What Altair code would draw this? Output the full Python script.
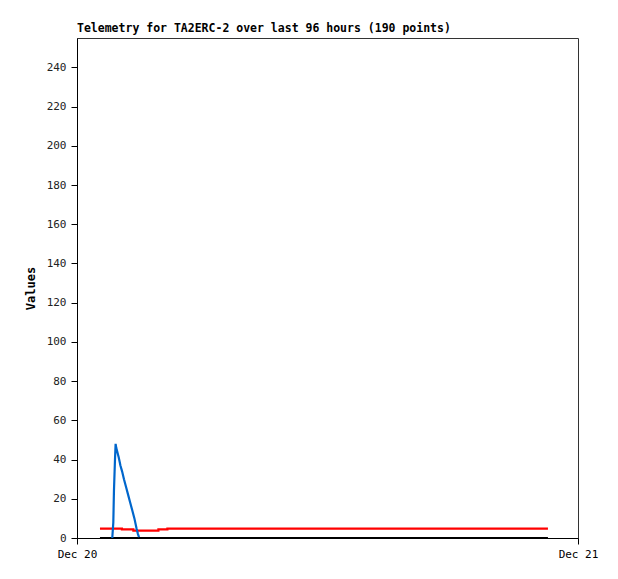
import altair as alt
import pandas as pd

# hours since Dec 20 00:00
black_x = [1.1, 22.56]
black_y = [0.0, 0.0]

red_x = [1.1, 2.15, 2.7, 3.9, 4.33, 22.56]
red_y = [4.75, 4.4, 3.8, 4.4, 4.75, 4.75]

blue_x = [1.69, 1.74, 1.77, 1.82, 1.85, 1.88, 1.93, 2.0, 2.08, 2.16, 2.25, 2.35,
          2.45, 2.55, 2.65, 2.75, 2.85, 2.92, 2.97]
blue_y = [0, 8, 24, 40, 48, 46, 44, 41, 37, 34, 30, 26, 22, 18, 14, 10, 5, 2, 0.5]

y_ticks = list(range(0, 241, 20))
x_ticks = [0, 24]
x_labels = ["Dec 20", "Dec 21"]

rows = []
for s, xs, ys in [("a", black_x, black_y), ("b", red_x, red_y), ("c", blue_x, blue_y)]:
    for i, (x, y) in enumerate(zip(xs, ys)):
        rows.append({"series": s, "t": x, "v": y, "o": i})
df = pd.DataFrame(rows)

FONT = "DejaVu Sans Mono"

xscale = alt.Scale(domain=[0, 24], nice=False, zero=False)
yscale = alt.Scale(domain=[0, 255], nice=False)

label_expr = "datum.value == 0 ? '%s' : '%s'" % (x_labels[0], x_labels[1])

xenc = alt.X("t:Q", scale=xscale,
             axis=alt.Axis(values=x_ticks, labelExpr=label_expr, title=None,
                           grid=False, tickSize=6, labelFontSize=11, labelFont=FONT,
                           labelColor="black", domainColor="black", tickColor="black",
                           labelPadding=4, labelFlush=False))
yenc = alt.Y("v:Q", scale=yscale,
             axis=alt.Axis(values=y_ticks, title="Values", grid=False, tickSize=6,
                           labelFontSize=11, labelFont=FONT, labelColor="#222",
                           titleFont=FONT, titleFontSize=12, titleFontWeight="bold",
                           titleColor="black", titlePadding=9,
                           domainColor="black", tickColor="black", labelPadding=5))

def layer(s, color, interp):
    return alt.Chart(df).transform_filter(alt.datum.series == s).mark_line(
        color=color, strokeWidth=2.2, interpolate=interp
    ).encode(x=xenc, y=yenc, order="o:Q")

chart = alt.layer(
    layer("a", "black", "linear"),
    layer("b", "#ff0000", "step-after"),
    layer("c", "#0066cc", "linear"),
).properties(
    width=501, height=500,
    title=alt.TitleParams("Telemetry for TA2ERC-2 over last 96 hours (190 points)",
                          anchor="start", frame="group", font=FONT, fontSize=11.5,
                          fontWeight="bold", color="black", offset=4),
    autosize=alt.AutoSizeParams(type="none"),
    padding={"left": 69, "top": 30, "right": 30, "bottom": 25},
).configure(background="white").configure_view(stroke="#333", strokeWidth=1)

chart.save("out.html", embed_options={"renderer": "svg", "actions": False})
